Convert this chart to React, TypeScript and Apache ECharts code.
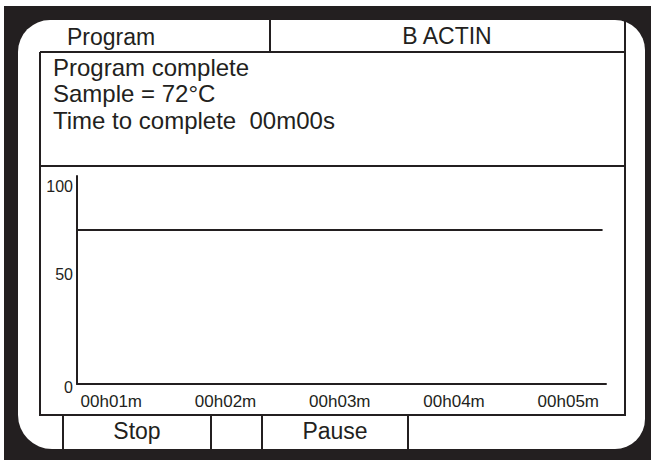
import React, { useEffect, useRef } from "react";
import * as echarts from "echarts";

const headerTexts = ["Program", "B ACTIN"];
const statusLines = ["Program complete", "Sample = 72°C", "Time to complete  00m00s"];
const buttonLabels = ["Stop", "", "Pause", ""];
const yTicks = [0, 50, 100];
const xTickMinutes = [1, 2, 3, 4, 5];
const xTickLabels = ["00h01m", "00h02m", "00h03m", "00h04m", "00h05m"];
const seriesTime = [0.7, 5.3];
const seriesTemp = [74, 74];

const INK = "#231f20";
const FONT = '"Liberation Sans", Arial, Helvetica, sans-serif';

export default function App() {
  const ref = useRef<HTMLDivElement>(null);
  useEffect(() => {
    if (!ref.current) return;
    const chart = echarts.init(ref.current, undefined, { renderer: "svg" });

    const ln = (x1: number, y1: number, x2: number, y2: number) => ({
      type: "line",
      z: -50,
      shape: { x1, y1, x2, y2 },
      style: { stroke: INK, lineWidth: 2 },
    });
    const txt = (text: string, x: number, y: number, size: number, align: string) => ({
      type: "text",
      z: -40,
      x,
      y,
      style: { text, fill: INK, fontSize: size, fontFamily: FONT, align, verticalAlign: "middle" },
    });

    const buttonEdges = [63, 211, 262, 408, 625];
    const buttonEls: any[] = [];
    buttonEdges.slice(0, 4).forEach((x) => buttonEls.push(ln(x, 415, x, 449)));
    buttonLabels.forEach((b, i) => {
      if (b) buttonEls.push(txt(b, (buttonEdges[i] + buttonEdges[i + 1]) / 2, 431, 23, "center"));
    });

    const yRich = {
      hi: { fontSize: 16, fontFamily: FONT, color: INK, padding: [20, 0, 0, 0] },
      mid: { fontSize: 16, fontFamily: FONT, color: INK, padding: [0, 0, 12, 0] },
      lo: { fontSize: 16, fontFamily: FONT, color: INK, padding: [6, 0, 0, 0] },
    };

    chart.setOption({
      animation: false,
      backgroundColor: "#ffffff",
      grid: { left: 77, right: 46, top: 176, bottom: 76 },
      xAxis: {
        type: "value",
        min: 0.7,
        max: 5.33,
        splitLine: { show: false },
        axisTick: { show: false },
        axisLine: { show: true, onZero: false, lineStyle: { color: INK, width: 2 } },
        axisLabel: {
          customValues: xTickMinutes,
          formatter: (v: number) => xTickLabels[xTickMinutes.indexOf(Math.round(v))] ?? "",
          color: INK,
          fontSize: 17,
          fontFamily: FONT,
          margin: 9,
        },
      },
      yAxis: {
        type: "value",
        min: yTicks[0],
        max: yTicks[yTicks.length - 1],
        interval: 50,
        splitLine: { show: false },
        axisTick: { show: false },
        axisLine: { show: true, onZero: false, lineStyle: { color: INK, width: 2 } },
        axisLabel: {
          color: INK,
          fontSize: 16,
          fontFamily: FONT,
          margin: 4,
          formatter: (v: number) =>
            v === yTicks[2] ? `{hi|${v}}` : v === yTicks[1] ? `{mid|${v}}` : `{lo|${v}}`,
          rich: yRich,
        },
      },
      series: [
        {
          type: "line",
          data: seriesTime.map((t, i) => [t, seriesTemp[i]]),
          symbol: "none",
          lineStyle: { color: INK, width: 2 },
          itemStyle: { color: INK },
        },
      ],
      graphic: [
        { type: "rect", z: -100, shape: { x: 4, y: 6, width: 647, height: 454 }, style: { fill: INK } },
        {
          type: "rect",
          z: -99,
          shape: { x: 18, y: 20, width: 627, height: 429, r: [32, 30, 30, 34] },
          style: { fill: "#ffffff" },
        },
        ln(270, 20, 270, 52),
        ln(40, 52, 625, 52),
        ln(625, 20, 625, 416),
        ln(40, 52, 40, 416),
        ln(40, 166, 625, 166),
        ln(40, 415, 626, 415),
        ...buttonEls,
        txt(headerTexts[0], 67, 37, 23, "left"),
        txt(headerTexts[1], 447, 36, 23, "center"),
        txt(statusLines[0], 53, 67, 24, "left"),
        txt(statusLines[1], 53, 93.5, 24, "left"),
        txt(statusLines[2], 53, 120, 24, "left"),
      ],
    });
    return () => chart.dispose();
  }, []);
  return (
    <div
      ref={ref}
      style={{ position: "absolute", left: 0, top: 0, width: 652, height: 460 }}
    />
  );
}
